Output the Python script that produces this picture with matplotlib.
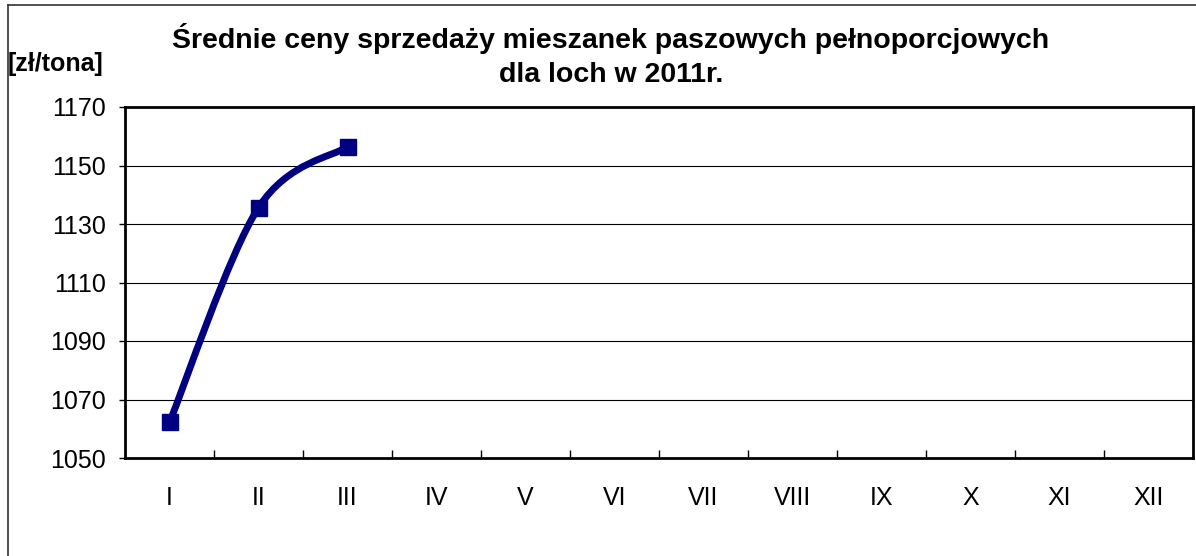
import numpy as np
import matplotlib
matplotlib.use("Agg")
import matplotlib.pyplot as plt
from matplotlib.path import Path
from matplotlib.patches import PathPatch
from matplotlib.lines import Line2D

plt.rcParams['font.family'] = ['Liberation Sans', 'DejaVu Sans']

# data
months = ["I", "II", "III", "IV", "V", "VI", "VII", "VIII", "IX", "X", "XI", "XII"]
prices = [1062.2, 1135.6, 1156.4]
y_ticks = [1050, 1070, 1090, 1110, 1130, 1150, 1170]

title = "Średnie ceny sprzedaży mieszanek paszowych pełnoporcjowych\ndla loch w 2011r."
unit_label = "[zł/tona]"
navy = "#000080"

fig = plt.figure(figsize=(11.96, 5.56), dpi=100)
W, H = 1196, 556
ax = fig.add_axes([125 / W, 1 - 458 / H, (1193 - 125) / W, (458 - 107) / H])

x = np.arange(1, len(prices) + 1)
pts = np.column_stack([x, prices])

# smoothed line like Excel (Catmull-Rom as cubic Bezier)
verts = [tuple(pts[0])]
codes = [Path.MOVETO]
for i in range(len(pts) - 1):
    p0 = pts[i - 1] if i > 0 else pts[i]
    p1 = pts[i]
    p2 = pts[i + 1]
    p3 = pts[i + 2] if i + 2 < len(pts) else pts[i + 1]
    c1 = p1 + (p2 - p0) / 6
    c2 = p2 - (p3 - p1) / 6
    verts += [tuple(c1), tuple(c2), tuple(p2)]
    codes += [Path.CURVE4] * 3
ax.add_patch(PathPatch(Path(verts, codes), facecolor="none", edgecolor=navy,
                       lw=5, capstyle="round", joinstyle="round", zorder=3))
ax.plot(x, prices, linestyle="none", marker="s", markersize=12,
        color=navy, zorder=4)

ax.set_xlim(0.5, len(months) + 0.5)
ax.set_ylim(y_ticks[0], y_ticks[-1])
ax.set_yticks(y_ticks)
ax.set_yticklabels([str(v) for v in y_ticks], fontsize=18)
ax.set_xticks(np.arange(1, len(months) + 1))
ax.set_xticklabels(months, fontsize=18)
ax.set_xticks(np.arange(1.5, len(months)), minor=True)
ax.tick_params(axis="x", which="major", length=0, pad=20)
ax.tick_params(axis="x", which="minor", direction="in", length=6, width=1)
ax.tick_params(axis="y", direction="out", length=4, width=1, pad=10)
ax.yaxis.grid(True, color="black", lw=0.8)
ax.set_axisbelow(True)
for s in ax.spines.values():
    s.set_linewidth(2)

fig.text(611 / W, 1 - 56 / H, title, ha="center", va="center",
         fontsize=20.5, fontweight="bold", linespacing=1.4)
fig.text(8 / W, 1 - 64 / H, unit_label, ha="left", va="center",
         fontsize=18, fontweight="bold")

# outer chart border
fig.add_artist(Line2D([8 / W, 8 / W], [0, 1 - 5 / H], transform=fig.transFigure,
                      color="#333333", lw=1.2))
fig.add_artist(Line2D([8 / W, 1], [1 - 5 / H, 1 - 5 / H], transform=fig.transFigure,
                      color="#333333", lw=1.2))

fig.savefig("out.png", dpi=100)
